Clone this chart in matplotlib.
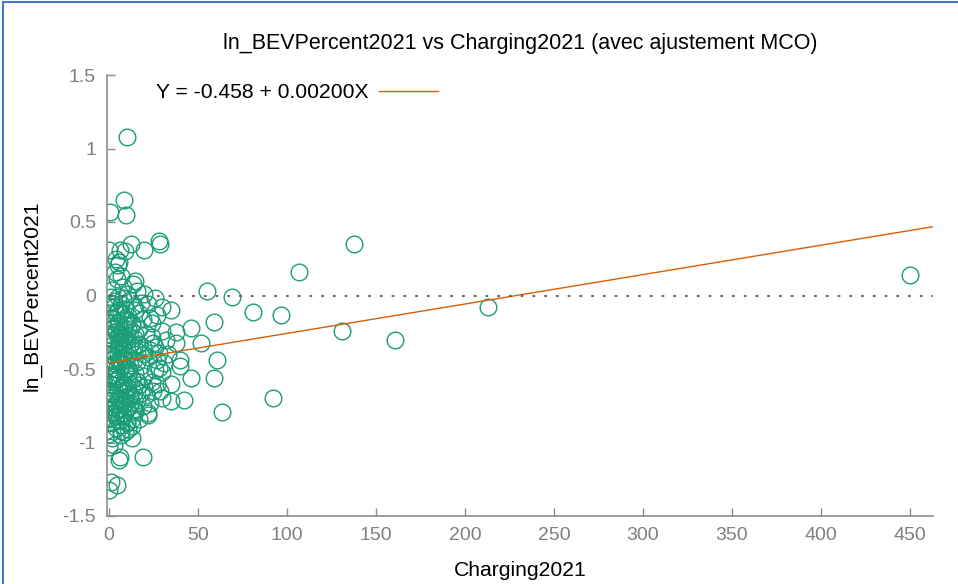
import matplotlib
matplotlib.use('Agg')
import matplotlib.pyplot as plt
from matplotlib.lines import Line2D
from matplotlib.ticker import FuncFormatter
import numpy as np

plt.rcParams['font.family'] = ['Liberation Sans', 'DejaVu Sans']

# values (x = Charging2021, y = ln_BEVPercent2021)
charging = [
    10, 8.5, 9.5, 0.5, 0, 6.5, 12.5, 28, 28.5, 20,
    9, 4, 6, 5, 3.5, 7, 4.5, 14.5, 13.5, 8,
    2, 16, 20, 1, 5, 10, 26, 12, 3, 18,
    7, 22, 0.5, 9, 15, 4, 27, 11, 2, 19,
    6, 24, 13, 0, 8, 14, 30, 17, 23, 5,
    1, 8, 17, 30, 4, 21, 10, 0, 14, 6,
    25, 3, 12, 19, 8, 1, 16, 28, 5, 10,
    22, 2, 14, 7, 31, 0, 18, 11, 4, 26,
    9, 15, 3, 20, 6, 12, 24, 2, 7, 13,
    9, 17, 27, 5, 0, 11, 16, 23,
    26, 9, 15, 1, 20, 6, 13, 3, 24, 8,
    17, 0, 11, 5, 29, 14, 2, 21, 9, 7,
    16, 1, 12, 4, 19, 10, 0, 6, 15, 3,
    22, 8, 1, 13, 5, 10, 2, 7, 0, 4,
    11, 18, 4, 10, 2, 7, 12, 5, 0, 8,
    3, 14, 6, 9, 17, 23, 20, 27, 1, 16,
    0, 7, 13, 0, 3, 5.5, 6.5, 19.5, 1.5, 4.5,
    0, 2, 9,
    35, 38, 38, 40, 40, 46, 46, 52, 55, 59,
    59, 61, 63.5, 69, 81, 92, 97, 107, 131, 138,
    161, 213, 450, 35, 42, 28, 30, 33, 32, 35,
    25, 30, 22,
    1, 3, 5, 7, 9, 11, 13, 2, 4, 6,
    8, 10, 12, 14, 0, 1.5, 3.5, 5.5, 7.5, 9.5,
    11.5, 2.5, 4.5, 6.5, 8.5, 10.5, 0.5, 3, 6, 9,
    12, 15, 1, 4, 7, 10, 13, 2, 5, 8,
    11, 14, 0, 3, 6, 9, 12, 1, 4, 7,
]
ln_bev = [
    1.08, 0.65, 0.55, 0.57, 0.31, 0.31, 0.35, 0.37, 0.35, 0.31,
    0.30, 0.25, 0.23, 0.21, 0.16, 0.13, 0.11, 0.10, 0.08, 0.06,
    0.04, 0.03, 0.01, -0.01, -0.01, 0.01, -0.02, -0.03, -0.04, -0.05,
    -0.06, -0.06, -0.08, -0.09, -0.10, -0.12, -0.13, -0.14, -0.15, -0.16,
    -0.18, -0.19, -0.20, -0.12, -0.02, -0.07, -0.08, -0.12, -0.15, -0.20,
    -0.21, -0.22, -0.23, -0.24, -0.25, -0.26, -0.27, -0.28, -0.29, -0.31,
    -0.32, -0.33, -0.34, -0.35, -0.36, -0.37, -0.38, -0.39, -0.40, -0.41,
    -0.42, -0.43, -0.44, -0.45, -0.46, -0.47, -0.48, -0.49, -0.50, -0.35,
    -0.30, -0.26, -0.22, -0.40, -0.44, -0.47, -0.28, -0.30, -0.27, -0.37,
    -0.43, -0.33, -0.44, -0.35, -0.40, -0.23, -0.45, -0.37,
    -0.51, -0.52, -0.53, -0.54, -0.55, -0.56, -0.57, -0.58, -0.59, -0.60,
    -0.61, -0.62, -0.63, -0.64, -0.65, -0.66, -0.67, -0.68, -0.69, -0.70,
    -0.71, -0.72, -0.73, -0.74, -0.75, -0.76, -0.77, -0.78, -0.79, -0.80,
    -0.81, -0.82, -0.83, -0.84, -0.85, -0.86, -0.87, -0.88, -0.84, -0.90,
    -0.91, -0.66, -0.55, -0.58, -0.61, -0.63, -0.68, -0.70, -0.70, -0.74,
    -0.76, -0.77, -0.82, -0.80, -0.84, -0.73, -0.62, -0.60, -0.65, -0.58,
    -0.94, -0.95, -0.97, -1.03, -1.02, -1.12, -1.10, -1.10, -1.27, -1.29,
    -1.32, -0.97, -0.93,
    -0.10, -0.25, -0.32, -0.44, -0.48, -0.22, -0.56, -0.32, 0.03, -0.18,
    -0.56, -0.44, -0.79, -0.01, -0.11, -0.70, -0.13, 0.16, -0.24, 0.35,
    -0.30, -0.08, 0.14, -0.72, -0.71, -0.49, -0.52, -0.40, -0.30, -0.60,
    -0.65, -0.70, -0.80,
    -0.05, -0.08, -0.10, -0.12, -0.15, -0.17, -0.19, -0.22, -0.24, -0.26,
    -0.29, -0.31, -0.33, -0.35, -0.38, -0.40, -0.42, -0.45, -0.47, -0.49,
    -0.52, -0.54, -0.57, -0.59, -0.61, -0.64, -0.66, -0.68, -0.71, -0.73,
    -0.75, -0.78, -0.80, -0.82, -0.85, -0.87, -0.89, -0.16, -0.28, -0.39,
    -0.50, -0.62, -0.55, -0.46, -0.34, -0.20, -0.70, -0.60, -0.81, -0.92,
]

# OLS fit shown in the legend
intercept = -0.458
slope = 0.00200

green = '#1b9e77'
orange = '#d95f02'
grey = '#8c8c8c'

fig = plt.figure(figsize=(9.58, 5.84), dpi=100)
ax = fig.add_axes([107 / 958, 1 - 516 / 584, (933 - 107) / 958, (516 - 75) / 584])

ax.plot(charging, ln_bev, linestyle='none', marker='o', markersize=12,
        markerfacecolor='none', markeredgecolor=green, markeredgewidth=1.0)

xmin, xmax = -1, 463
xs = np.array([0, xmax])
ax.plot(xs, intercept + slope * xs, color=orange, linewidth=1.0,
        label='Y = %.3f + %.5fX' % (intercept, slope))
ax.axhline(0, color='#555555', linestyle=(0, (1.5, 5)), linewidth=1.3, xmin=0.004)

ax.set_xlim(xmin, xmax)
ax.set_ylim(-1.5, 1.5)
ax.set_xticks(np.arange(0, 451, 50))
ax.set_yticks([-1.5, -1, -0.5, 0, 0.5, 1, 1.5])
ax.yaxis.set_major_formatter(FuncFormatter(lambda v, p: '%g' % v))

for side in ['top', 'right']:
    ax.spines[side].set_visible(False)
for side in ['left', 'bottom']:
    ax.spines[side].set_color(grey)
    ax.spines[side].set_linewidth(1.2)
ax.tick_params(direction='in', length=6, width=1, color=grey,
               labelcolor='#808080', labelsize=14, pad=8)

ax.set_title('ln_BEVPercent2021 vs Charging2021 (avec ajustement MCO)',
             fontsize=15.5, pad=19)
ax.set_xlabel('Charging2021', fontsize=15.2, labelpad=12)
ax.set_ylabel('ln_BEVPercent2021', fontsize=15.2, labelpad=15)

leg = ax.legend(loc='upper left', bbox_to_anchor=(0.036, 1.025), frameon=False,
                markerfirst=False, fontsize=15.2, handlelength=2.8,
                handletextpad=0.5)

# blue frame of the screenshot
fig.add_artist(Line2D([3 / 958, 3 / 958], [0, 1 - 2 / 584], color='#4a78c8', linewidth=1.5))
fig.add_artist(Line2D([3 / 958, 1], [1 - 2 / 584, 1 - 2 / 584], color='#4a78c8', linewidth=1.5))

fig.savefig('out.png', dpi=100)
